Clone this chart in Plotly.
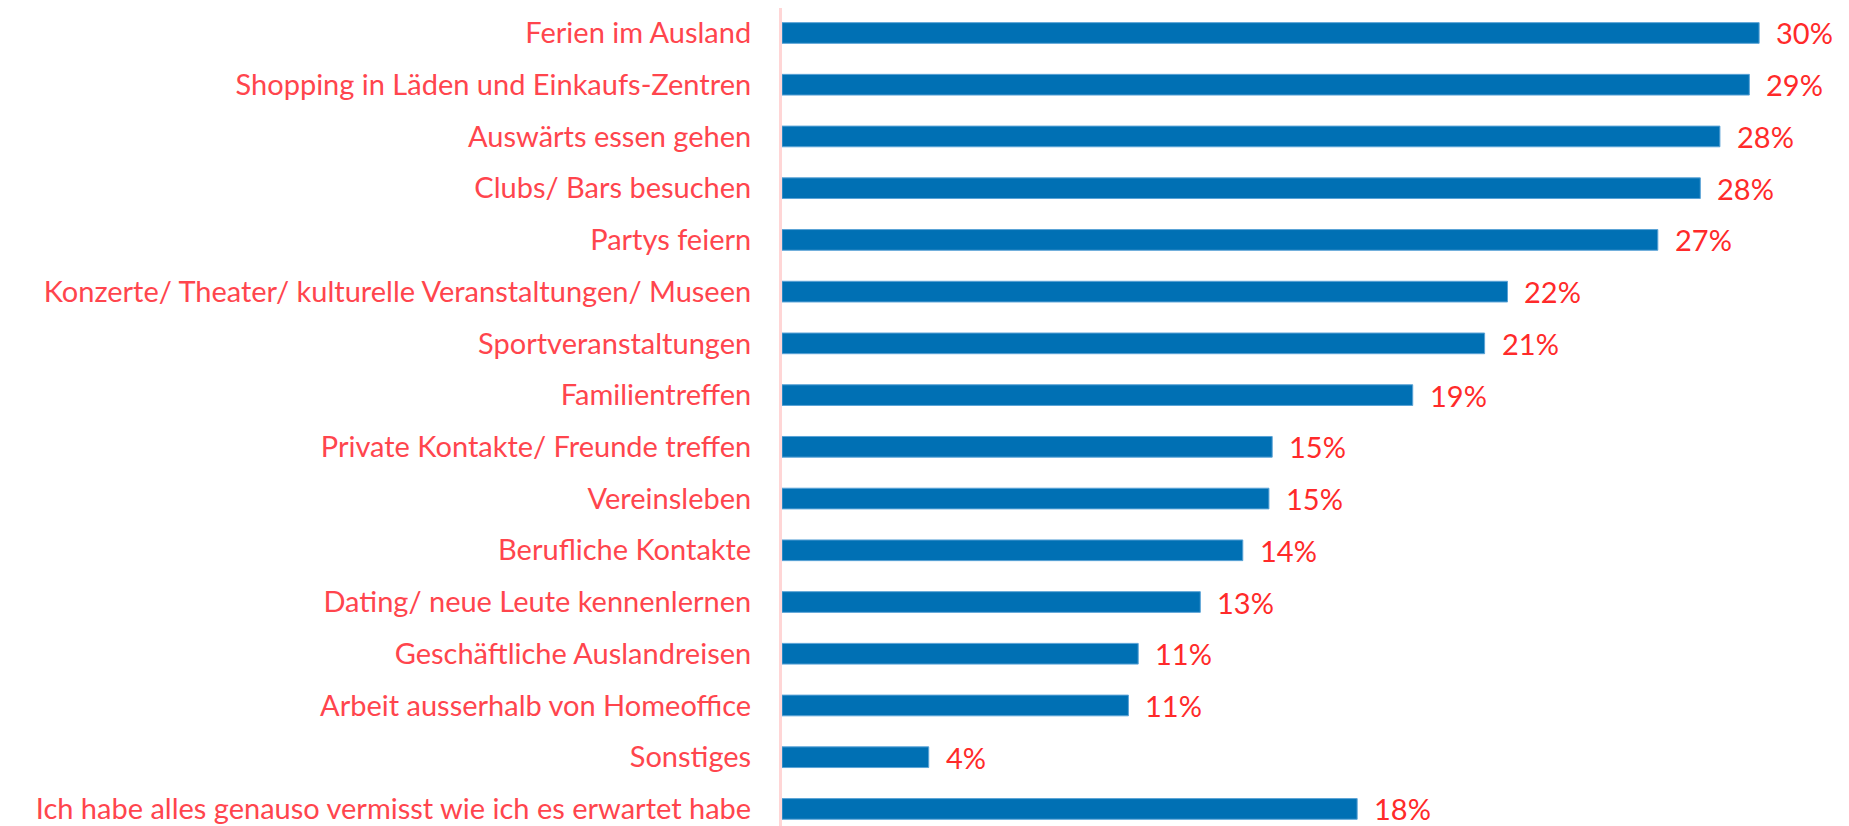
import plotly.graph_objects as go

categories = [
    "Ferien im Ausland",
    "Shopping in Läden und Einkaufs-Zentren",
    "Auswärts essen gehen",
    "Clubs/ Bars besuchen",
    "Partys feiern",
    "Konzerte/ Theater/ kulturelle Veranstaltungen/ Museen",
    "Sportveranstaltungen",
    "Familientreffen",
    "Private Kontakte/ Freunde treffen",
    "Vereinsleben",
    "Berufliche Kontakte",
    "Dating/ neue Leute kennenlernen",
    "Geschäftliche Auslandreisen",
    "Arbeit ausserhalb von Homeoffice",
    "Sonstiges",
    "Ich habe alles genauso vermisst wie ich es erwartet habe",
]
values = [29.9, 29.6, 28.7, 28.1, 26.8, 22.2, 21.5, 19.3, 15.0, 14.9, 14.1, 12.8, 10.9, 10.6, 4.49, 17.6]
labels = ["30%", "29%", "28%", "28%", "27%", "22%", "21%", "19%", "15%", "15%",
          "14%", "13%", "11%", "11%", "4%", "18%"]

FONT = "Lato"

fig = go.Figure(go.Bar(
    x=values,
    y=categories,
    orientation="h",
    marker=dict(color="#0070B4", line=dict(color="#5BA3D6", width=1)),
    hoverinfo="skip",
))

for v, c, t in zip(values, categories, labels):
    fig.add_annotation(
        x=v, y=c, text=t, showarrow=False,
        xanchor="left", yanchor="middle", xshift=15,
        font=dict(color="#FF2A2A", size=29, family=FONT),
    )

fig.update_layout(
    width=1841, height=818,
    paper_bgcolor="white", plot_bgcolor="white",
    margin=dict(l=774, r=0, t=0, b=0, pad=0),
    bargap=0.6,
    showlegend=False,
)
fig.update_xaxes(range=[0, 32.65], visible=False, showgrid=False, zeroline=False)
fig.update_yaxes(
    range=[15.33, -0.483],
    showline=True, linecolor="#FFD6D6", linewidth=3,
    showgrid=False, zeroline=False,
    ticks="", ticklabelstandoff=22,
    tickfont=dict(color="#FF454D", size=29, family=FONT),
)
fig.write_html("out.html")
